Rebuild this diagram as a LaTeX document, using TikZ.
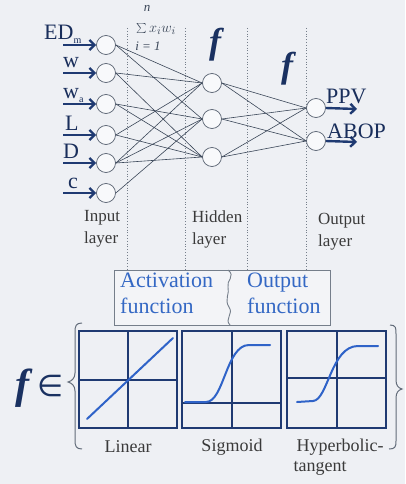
\documentclass[tikz,border=0pt]{standalone}
\usepackage{fontspec}
\setmainfont{Liberation Serif}
\newfontfamily\symfam{DejaVu Sans}
\usetikzlibrary{arrows.meta,calc}
\definecolor{paper}{HTML}{EEF0F4}
\definecolor{navy}{HTML}{1F3A72}
\definecolor{ink}{HTML}{3A4658}
\definecolor{actblue}{HTML}{3468C4}
\definecolor{curveblue}{HTML}{2F63C8}
\definecolor{labelgray}{HTML}{3A3A3A}
\tikzset{
  neuron/.style={circle,draw=ink!85,line width=0.7pt,fill=white!60!paper,minimum size=19pt,inner sep=0pt},
  link/.style={draw=ink,line width=0.6pt},
  inarrow/.style={draw=navy,line width=2.4pt,-{Straight Barb[length=5pt,width=10pt]}},
  sep/.style={draw=ink!70,line width=0.8pt,dotted},
  inlabel/.style={text=navy!80!black,inner sep=0pt,anchor=base west,font=\fontsize{22}{24}\selectfont},
  outlabel/.style={text=navy!80!black,inner sep=0pt,anchor=base west,font=\fontsize{22}{24}\selectfont},
  layerlbl/.style={text=labelgray,inner sep=0pt,anchor=north west,align=left,font=\fontsize{17}{22}\selectfont},
  funcf/.style={text=navy!85!black,inner sep=0pt,font=\fontsize{36}{36}\selectfont\bfseries\itshape},
  boxtext/.style={text=actblue,inner sep=0pt,anchor=north west,align=left,font=\fontsize{22}{26}\selectfont},
  panel/.style={draw=navy,line width=1.6pt},
  curve/.style={draw=curveblue,line width=2pt,line cap=round},
  panellbl/.style={text=labelgray,inner sep=0pt,font=\fontsize{18}{21}\selectfont},
  brace/.style={draw=ink!80,line width=1pt}
}
\begin{document}
\begin{tikzpicture}[x=1pt,y=-1pt]
\fill[paper] (0,0) rectangle (405,484);
\useasboundingbox (0,0) rectangle (405,484);

% layer separators
\foreach \xx/\nm in {127/s1,185/s2,247/s3,306/s4}{
  \coordinate (\nm t) at (\xx,28);
  \coordinate (\nm b) at (\xx,269);
  \draw[sep] (\nm t) -- (\nm b);
}

% neurons
\node[neuron] (i1) at (106,45) {};
\node[neuron] (i2) at (106,73) {};
\node[neuron] (i3) at (106,104) {};
\node[neuron] (i4) at (106,135) {};
\node[neuron] (i5) at (106,163) {};
\node[neuron] (i6) at (106,193) {};
\node[neuron] (h1) at (212,83) {};
\node[neuron] (h2) at (212,119) {};
\node[neuron] (h3) at (212,157) {};
\node[neuron] (o1) at (316,108) {};
\node[neuron] (o2) at (316,141) {};

% input to hidden weights
\foreach \a/\b in {i1/h1,i1/h2,i2/h1,i2/h3,i3/h2,i3/h3,i4/h1,i4/h3,i5/h1,i5/h2,i5/h3,i6/h2}
  \draw[link] (\a.east) -- (\b.west);
% hidden to output weights
\foreach \a in {h1,h2,h3}
  \foreach \b in {o1,o2}
    \draw[link] (\a.east) -- (\b.west);

% input arrows and labels
\foreach \n in {1,...,6}{
  \coordinate (a\n) at ($(i\n.west)+(-33,0)$);
}
\foreach \n in {1,...,6}
  \draw[inarrow] (a\n) -- (i\n.west);
\node[inlabel] (l1) at (44,40) {ED\textsubscript{\fontsize{10}{10}\selectfont m}};
\node[inlabel] (l2) at (63,68) {w};
\node[inlabel] (l3) at (63,99) {w\textsubscript{\fontsize{10}{10}\selectfont a}};
\node[inlabel] (l4) at (65,130) {L};
\node[inlabel] (l5) at (63,158) {D};
\node[inlabel] (l6) at (68,188) {c};

% output arrows and labels
\coordinate (e1) at (357,109);
\coordinate (e2) at (357,142);
\draw[inarrow] (o1.east) -- (e1);
\draw[inarrow] (o2.east) -- (e2);
\node[outlabel] (pp) at (326,104) {PPV};
\node[outlabel] (ab) at (327,138) {ABOP};

% weighted sum
\node[inner sep=0pt,text=ink,font=\fontsize{13}{13}\selectfont\itshape] (sn) at (147,8) {n};
\node[inner sep=0pt,text=ink,font=\fontsize{15}{15}\selectfont,anchor=west] (sx) at (136,29) {$\sum x_i w_i$};
\node[inner sep=0pt,text=ink,font=\fontsize{13}{13}\selectfont\itshape] (si) at (148,46) {i = 1};

% transfer functions
\node[funcf] (f1) at (215,45) {f};
\node[funcf] (f2) at (287,69) {f};

% layer names
\node[layerlbl] (L1) at (84,210) {Input\\layer};
\node[layerlbl] (L2) at (192,211) {Hidden\\layer};
\node[layerlbl] (L3) at (318,213) {Output\\layer};

% activation / output function box
\draw[draw=ink!70,line width=0.9pt,fill=white!30!paper] (114,270) rectangle (330,325);
\draw[draw=ink!70,line width=0.9pt] (228,270) .. controls (236,276) and (226,281) .. (228,287)
  .. controls (230,293) and (224,300) .. (229,307) .. controls (234,314) and (224,319) .. (230,325);
\node[boxtext] (t1) at (120,273) {Activation\\function};
\node[boxtext] (t2) at (247,273) {Output\\function};

% f in { ... }
\node[inner sep=0pt,text=navy!85!black,font=\fontsize{42}{42}\selectfont\bfseries\itshape] (fe) at (22,388) {f};
\node[inner sep=0pt,text=navy!85!black,font=\symfam\fontsize{30}{30}\selectfont] (in) at (51,386) {∈};
\draw[brace] (82,323) .. controls (76,323) and (75,326) .. (75,332) -- (75,373)
  .. controls (75,378) and (72,381) .. (68,382) .. controls (72,383) and (75,386) .. (75,391)
  -- (75,440) .. controls (75,446) and (76,449) .. (82,449);
\draw[brace] (390,325) .. controls (396,325) and (396,328) .. (396,334) -- (396,380)
  .. controls (396,385) and (398,388) .. (402,389) .. controls (398,390) and (396,393) .. (396,398)
  -- (396,441) .. controls (396,447) and (395,449) .. (389,449);

% linear
\draw[panel] (79,331) rectangle (177,428);
\draw[panel] (128,331) -- (128,428);
\draw[panel] (79,380) -- (177,380);
\draw[curve] (87,419) -- (173,338);
\node[panellbl] (p1) at (128,447) {Linear};

% sigmoid
\draw[panel] (182,331) rectangle (281,428);
\draw[panel] (232,331) -- (232,428);
\draw[panel] (182,403) -- (281,403);
\draw[curve] (185,402) -- (206,402) .. controls (224,402) and (226,345) .. (249,345) -- (270,345);
\node[panellbl] (p2) at (232,447) {Sigmoid};

% hyperbolic tangent
\draw[panel] (287,331) rectangle (386,428);
\draw[panel] (337,331) -- (337,428);
\draw[panel] (287,378) -- (386,378);
\draw[curve] (297,402) -- (313,401) .. controls (328,400) and (331,346) .. (358,346) -- (378,346);
\node[panellbl] (p3) at (340,447) {Hyperbolic-};
\node[panellbl] (p4) at (320,468) {tangent};
\end{tikzpicture}
\end{document}
